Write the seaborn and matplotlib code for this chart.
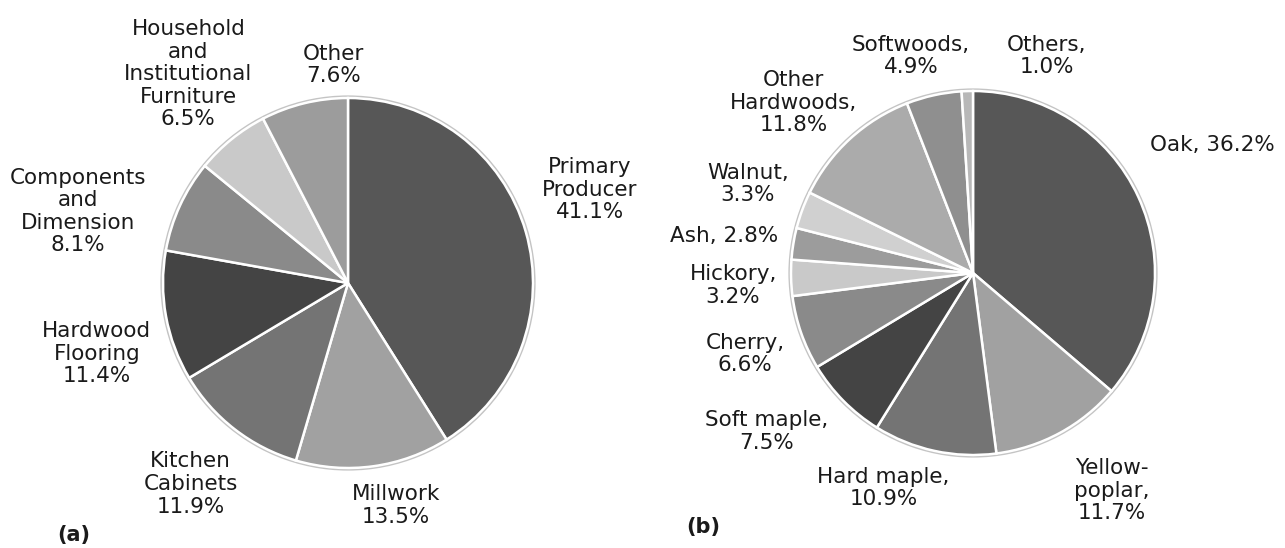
import numpy as np
import seaborn as sns
import matplotlib
matplotlib.use("Agg")
import matplotlib.pyplot as plt
from matplotlib.patches import Circle

# (a) market share by sector
labels_a = ["Primary\nProducer\n41.1%", "Millwork\n13.5%", "Kitchen\nCabinets\n11.9%",
            "Hardwood\nFlooring\n11.4%", "Components\nand\nDimension\n8.1%",
            "Household\nand\nInstitutional\nFurniture\n6.5%", "Other\n7.6%"]
values_a = [41.1, 13.5, 11.9, 11.4, 8.1, 6.5, 7.6]

# (b) species share
labels_b = ["Oak, 36.2%", "Yellow-\npoplar,\n11.7%", "Hard maple,\n10.9%", "Soft maple,\n7.5%",
            "Cherry,\n6.6%", "Hickory,\n3.2%", "Ash, 2.8%", "Walnut,\n3.3%",
            "Other\nHardwoods,\n11.8%", "Softwoods,\n4.9%", "Others,\n1.0%"]
values_b = [36.2, 11.7, 10.9, 7.5, 6.6, 3.2, 2.8, 3.3, 11.8, 4.9, 1.0]

colors_a = ["#575757", "#a1a1a1", "#747474", "#444444", "#8a8a8a", "#c9c9c9", "#9c9c9c"]
colors_b = ["#575757", "#a1a1a1", "#747474", "#444444", "#8a8a8a", "#c9c9c9",
            "#9c9c9c", "#d0d0d0", "#ababab", "#8f8f8f", "#b8b8b8"]

# label placement: (radius factor, angle tweak in degrees) from wedge middle
lay_a = [(1.40, 5), (1.23, 4.3), (1.38, -0.3), (1.41, 5.4), (1.51, 9.9), (1.42, -1.6), (1.18, -9.9)]
lay_b = [(1.49, 3.4), (1.42, 4.1), (1.28, -10.3), (1.43, -7), (1.33, 0.4), (1.32, 1.5),
         (1.38, 0.8), (1.33, -1.3), (1.36, 4), (1.24, 3.5), (1.26, -20.6)]

sns.set_theme(style="white")
plt.rcParams["font.family"] = ["DejaVu Sans"]

W, H = 1285, 548
fig = plt.figure(figsize=(W / 100, H / 100), dpi=100)
ax = fig.add_axes([0, 0, 1, 1])


def draw_pie(values, colors, labels, lay, center, radius):
    # faint shadow ring around the pie
    ax.add_patch(Circle(center, radius + 1.5, facecolor="none", edgecolor="#c4c4c4",
                        linewidth=1.6, zorder=0))
    wedges, _ = ax.pie(values, colors=colors, startangle=90, counterclock=False,
                       center=center, radius=radius, normalize=True,
                       wedgeprops=dict(edgecolor="white", linewidth=1.8))
    for w, lab, (d, dt) in zip(wedges, labels, lay):
        mid = np.deg2rad((w.theta1 + w.theta2) / 2 + dt)
        x = center[0] + d * radius * np.cos(mid)
        y = center[1] + d * radius * np.sin(mid)
        ax.text(x, y, lab, ha="center", va="center", fontsize=15.5,
                color="#1a1a1a", linespacing=1.16)


draw_pie(values_a, colors_a, labels_a, lay_a, (348, H - 283), 185)
draw_pie(values_b, colors_b, labels_b, lay_b, (973, H - 273), 182)

ax.text(74, H - 535, "(a)", ha="center", va="center", fontsize=15, fontweight="bold", color="#1a1a1a")
ax.text(703, H - 527, "(b)", ha="center", va="center", fontsize=15, fontweight="bold", color="#1a1a1a")

ax.set_xlim(0, W)
ax.set_ylim(0, H)
ax.set_aspect("auto")
ax.axis("off")

fig.savefig("out.png", dpi=100)
